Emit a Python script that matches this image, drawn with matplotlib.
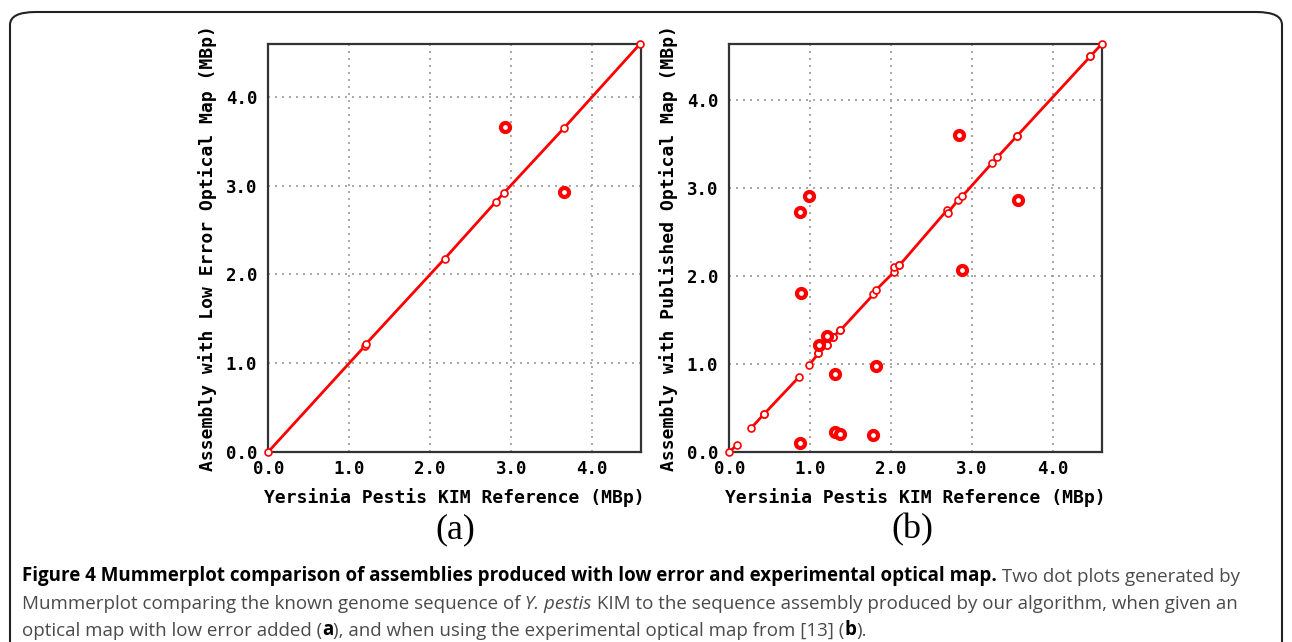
import numpy as np
import matplotlib
matplotlib.use('Agg')
import matplotlib.pyplot as plt
from matplotlib.patches import FancyBboxPatch

# panel (a): alignments along the diagonal, as a chain of breakpoints (MBp)
left_diag_ref = [0.00, 1.19, 1.21, 2.18, 2.81, 2.91, 3.65, 4.59]
left_diag_asm = [0.00, 1.19, 1.22, 2.18, 2.82, 2.92, 3.65, 4.60]
# panel (a): short off-diagonal hits
left_hit_ref = [2.92, 3.65]
left_hit_asm = [3.66, 2.93]

# panel (b): diagonal alignments as separate segments
right_ref_start = [0.00, 0.27, 0.43, 0.99, 1.10, 1.21, 1.28, 1.37, 1.81, 2.03, 2.10, 2.70, 2.88, 3.31, 3.55, 4.46]
right_ref_end   = [0.10, 0.43, 0.86, 1.10, 1.21, 1.28, 1.37, 1.78, 2.04, 2.10, 2.69, 2.83, 3.25, 3.55, 4.46, 4.60]
right_asm_start = [0.00, 0.27, 0.43, 0.99, 1.12, 1.22, 1.31, 1.38, 1.84, 2.10, 2.12, 2.72, 2.91, 3.35, 3.59, 4.50]
right_asm_end   = [0.08, 0.43, 0.85, 1.12, 1.22, 1.31, 1.38, 1.79, 2.05, 2.12, 2.75, 2.87, 3.29, 3.59, 4.50, 4.64]
# panel (b): short off-diagonal hits
right_hit_ref = [0.87, 0.88, 0.87, 0.99, 1.11, 1.21, 1.31, 1.30, 1.37, 1.78, 1.81, 2.84, 2.88, 3.56]
right_hit_asm = [0.10, 1.81, 2.73, 2.91, 1.22, 1.32, 0.88, 0.22, 0.20, 0.19, 0.98, 3.60, 2.07, 2.87]

ticks = [0.0, 1.0, 2.0, 3.0, 4.0]
tick_labels = ['0.0', '1.0', '2.0', '3.0', '4.0']
xlabel = 'Yersinia Pestis KIM Reference (MBp)'
ylabel_a = 'Assembly with Low Error Optical Map (MBp)'
ylabel_b = 'Assembly with Published Optical Map (MBp)'

RED = '#ff0000'
MONO = dict(family='DejaVu Sans Mono', weight='bold')


def style_axes(ax, ylabel, ymax):
    ax.set_xlim(0, 4.60)
    ax.set_ylim(0, ymax)
    ax.set_xticks(ticks)
    ax.set_yticks(ticks)
    ax.set_xticklabels(tick_labels, fontsize=12.5, **MONO)
    ax.set_yticklabels(tick_labels, fontsize=12.5, **MONO)
    ax.tick_params(axis='x', length=0, pad=6)
    ax.tick_params(axis='y', length=0, pad=8)
    ax.grid(True, linestyle=(0, (1.2, 3)), color='#999999', linewidth=1.2)
    ax.set_axisbelow(True)
    for s in ax.spines.values():
        s.set_color('#333333')
        s.set_linewidth(1.6)
    ax.set_xlabel(xlabel, fontsize=13, labelpad=7, **MONO)
    ax.set_ylabel(ylabel, fontsize=13, labelpad=6, **MONO)


def draw_hits(ax, xs, ys):
    ax.plot(xs, ys, linestyle='none', marker='o', ms=6.5, mew=3,
            mec=RED, mfc='white', clip_on=False, zorder=4)


fig = plt.figure(figsize=(12.92, 6.42), dpi=100)

# outer rounded frame
frame = FancyBboxPatch((10 / 1292, -0.1), 1272 / 1292, 1.1 - 12 / 642,
                       boxstyle='round,pad=0,rounding_size=0.02',
                       transform=fig.transFigure, fill=False,
                       edgecolor='#222222', linewidth=1.5)
fig.patches.append(frame)

axa = fig.add_axes([0.2077, 0.2964, 0.2882, 0.6350])
axb = fig.add_axes([0.5645, 0.2964, 0.2882, 0.6350])

# panel (a)
axa.plot(left_diag_ref, left_diag_asm, '-', color=RED, lw=2, marker='o', ms=5,
         mew=1.2, mfc='white', clip_on=False, zorder=3)
draw_hits(axa, left_hit_ref, left_hit_asm)
style_axes(axa, ylabel_a, 4.60)

# panel (b)
for x1, x2, y1, y2 in zip(right_ref_start, right_ref_end, right_asm_start, right_asm_end):
    axb.plot([x1, x2], [y1, y2], '-', color=RED, lw=2, marker='o', ms=5,
             mew=1.2, mfc='white', clip_on=False, zorder=3)
draw_hits(axb, right_hit_ref, right_hit_asm)
style_axes(axb, ylabel_b, 4.64)

fig.text(455 / 1292, 1 - 530 / 642, '(a)', family='Liberation Serif', fontsize=26,
         ha='center', va='center')
fig.text(912 / 1292, 1 - 530 / 642, '(b)', family='Liberation Serif', fontsize=26,
         ha='center', va='center')

# caption, built run by run
CAP = dict(family='Open Sans', fontsize=13.5)
GREY = '#4a4a4a'


def caption_line(y, runs):
    text, kw = runs[0]
    prev = fig.text(22 / 1292, y, text, va='baseline', ha='left', **CAP, **kw)
    for text, kw in runs[1:]:
        prev = axa.annotate(text, xy=(1, 0), xycoords=prev, va='bottom', ha='left',
                            **CAP, **kw)


B = dict(weight='bold', color='black')
R = dict(color=GREY)
I = dict(style='italic', color=GREY)

caption_line(1 - 581 / 642, [
    ('Figure 4 Mummerplot comparison of assemblies produced with low error and experimental optical map.', B),
    (' Two dot plots generated by', R)])
caption_line(1 - 609 / 642, [
    ('Mummerplot comparing the known genome sequence of', R),
    (' Y. pestis', I),
    (' KIM to the sequence assembly produced by our algorithm, when given an', R)])
caption_line(1 - 636 / 642, [
    ('optical map with low error added (', R),
    ('a', B),
    ('), and when using the experimental optical map from [13] (', R),
    ('b', B),
    (').', R)])

fig.savefig('out.png', dpi=100)
